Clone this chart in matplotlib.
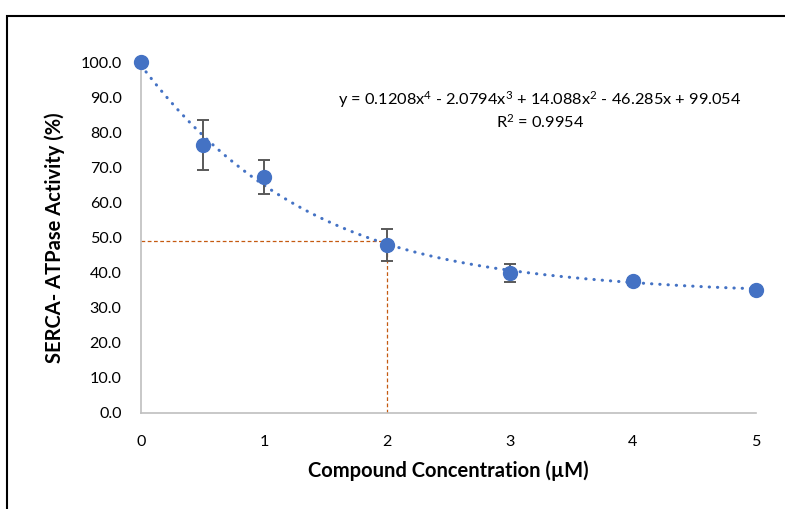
import numpy as np
import matplotlib.pyplot as plt
from matplotlib.patches import Rectangle

plt.rcParams['font.family'] = ['Lato', 'DejaVu Sans']
plt.rcParams['mathtext.default'] = 'regular'

# measured data
conc = [0, 0.5, 1, 2, 3, 4, 5]
activity = [100.0, 76.3, 67.3, 47.9, 39.8, 37.6, 35.1]
err = [0.0, 7.2, 4.9, 4.6, 2.6, 1.0, 0.5]

# 4th order trendline shown on the chart
coef = [0.1208, -2.0794, 14.088, -46.285, 99.054]
ic50_x = 2
ic50_y = 49

blue = '#4472C4'
orange = '#C55A11'

fig = plt.figure(figsize=(7.85, 5.09), dpi=100)
ax = fig.add_axes([141/785, 96/509, 615/785, 351/509])

xs = np.linspace(0, 5, 200)
ax.plot(xs, np.polyval(coef, xs), color=blue, lw=2.2, linestyle=(0, (0.1, 2.6)),
        dash_capstyle='round', zorder=2)

ax.plot([0, ic50_x], [ic50_y, ic50_y], color=orange, lw=0.9, ls=(0, (3, 2)), zorder=1)
ax.plot([ic50_x, ic50_x], [0, ic50_y], color=orange, lw=0.9, ls=(0, (3, 2)), zorder=1)

ax.errorbar(conc, activity, yerr=err, fmt='none', ecolor='#595959', elinewidth=1.4,
            capsize=4.5, capthick=1.4, zorder=3, clip_on=False)
ax.plot(conc, activity, 'o', color=blue, markersize=10, zorder=4, clip_on=False)

ax.set_xlim(0, 5)
ax.set_ylim(0, 100)
ax.set_yticks(np.arange(0, 101, 10))
ax.set_yticklabels([f'{v:.1f}' for v in np.arange(0, 101, 10)])
ax.set_xticks(range(6))
ax.tick_params(length=0, labelsize=11.6, colors='#000000')
ax.tick_params(axis='x', pad=16)
ax.tick_params(axis='y', pad=14)
for s in ['top', 'right']:
    ax.spines[s].set_visible(False)
for s in ['left', 'bottom']:
    ax.spines[s].set_color('#BFBFBF')
    ax.spines[s].set_linewidth(1.2)

ax.set_xlabel('Compound Concentration (µM)', fontsize=14.5, fontweight='bold', labelpad=8)
ax.set_ylabel('SERCA- ATPase Activity (%)', fontsize=14.5, fontweight='bold', labelpad=11)

ax.text(540/785, 1 - 100/509, 'y = 0.1208x$^4$ - 2.0794x$^3$ + 14.088x$^2$ - 46.285x + 99.054',
        transform=fig.transFigure, ha='center', va='center', fontsize=11.8)
ax.text(540/785, 1 - 122/509, 'R$^2$ = 0.9954', transform=fig.transFigure,
        ha='center', va='center', fontsize=11.8)

fig.patches.append(Rectangle((7/785, -0.1), 1.2, 1.1 - 16/509, transform=fig.transFigure,
                             fill=False, edgecolor='black', lw=1.5))

fig.savefig('out.png', dpi=100)
